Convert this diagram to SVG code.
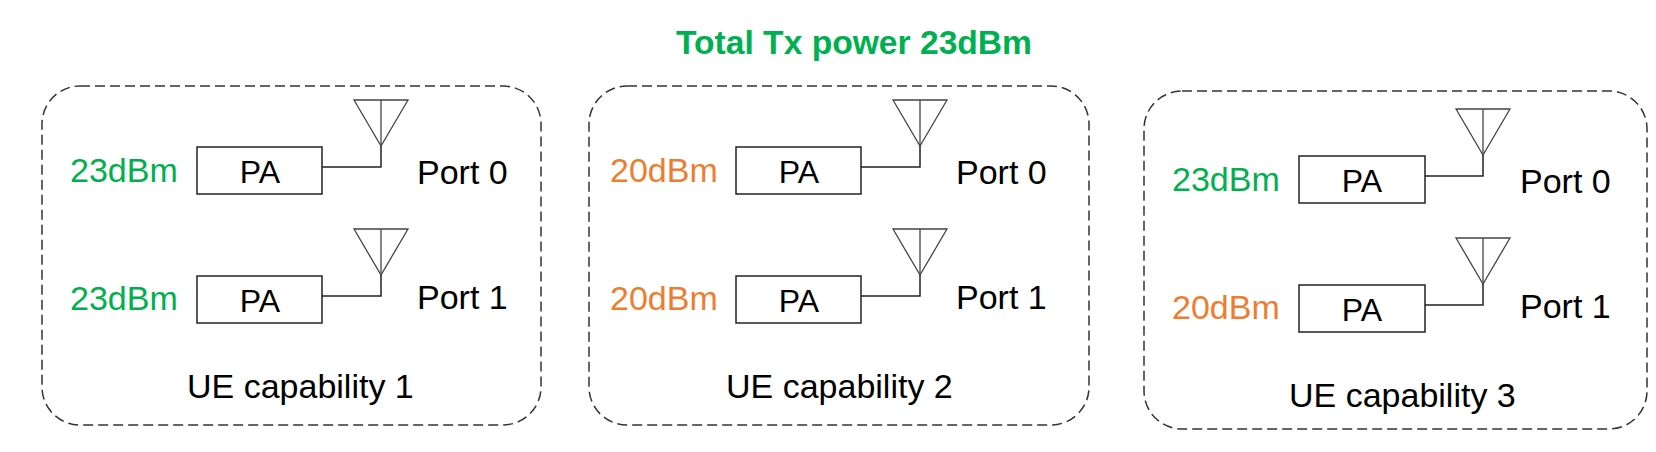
<svg xmlns="http://www.w3.org/2000/svg" width="1656" height="452" viewBox="0 0 1656 452">
<style>
text{font-family:"Liberation Sans",Arial,sans-serif;font-size:34px;fill:#000}
.title{font-weight:bold;font-size:33px;fill:#00B050}
.g{fill:#00B050}
.o{fill:#ED7D31}
.pa{font-size:32px;text-anchor:middle}
.panel{fill:none;stroke:#333;stroke-width:1.5;stroke-dasharray:10 5}
.box{fill:#fff;stroke:#222;stroke-width:1.5}
.ant{fill:none;stroke:#444;stroke-width:1.3;stroke-linejoin:miter}
.wire{fill:none;stroke:#222;stroke-width:1.5}
</style>
<defs>
<g id="antenna">
<polygon class="ant" points="-27,0 27,0 0,46"/>
<line class="ant" x1="0" y1="0" x2="0" y2="46"/>
</g>
</defs>
<rect width="1656" height="452" fill="#fff"/>
<g id="title"><text class="title" x="676" y="54" textLength="356" lengthAdjust="spacingAndGlyphs">Total Tx power 23dBm</text></g>

<g id="panel1">
<rect class="panel" x="42" y="86" width="499" height="339" rx="38" ry="38"/>
<text x="187" y="398">UE capability 1</text>
</g>
<g id="panel2">
<rect class="panel" x="589" y="86" width="500" height="339" rx="38" ry="38"/>
<text x="726" y="398">UE capability 2</text>
</g>
<g id="panel3">
<rect class="panel" x="1144" y="91" width="503" height="338" rx="38" ry="38"/>
<text x="1289" y="407">UE capability 3</text>
</g>

<g id="pa1-0"><text class="g" x="70" y="182">23dBm</text><rect class="box" x="197" y="147" width="125" height="47"/><text class="pa" x="260" y="183">PA</text></g>
<g id="pa1-1"><text class="g" x="70" y="310">23dBm</text><rect class="box" x="197" y="276" width="125" height="47"/><text class="pa" x="260" y="312">PA</text></g>
<g id="ant1-0"><use href="#antenna" x="381" y="100"/><text x="417" y="184">Port 0</text></g>
<g id="ant1-1"><use href="#antenna" x="381" y="229"/><text x="417" y="309">Port 1</text></g>

<g id="pa2-0"><text class="o" x="610" y="182">20dBm</text><rect class="box" x="736" y="147" width="125" height="47"/><text class="pa" x="799" y="183">PA</text></g>
<g id="pa2-1"><text class="o" x="610" y="310">20dBm</text><rect class="box" x="736" y="276" width="125" height="47"/><text class="pa" x="799" y="312">PA</text></g>
<g id="ant2-0"><use href="#antenna" x="920" y="100"/><text x="956" y="184">Port 0</text></g>
<g id="ant2-1"><use href="#antenna" x="920" y="229"/><text x="956" y="309">Port 1</text></g>

<g id="pa3-0"><text class="g" x="1172" y="191">23dBm</text><rect class="box" x="1299" y="156" width="126" height="47"/><text class="pa" x="1362" y="192">PA</text></g>
<g id="pa3-1"><text class="o" x="1172" y="319">20dBm</text><rect class="box" x="1299" y="285" width="126" height="47"/><text class="pa" x="1362" y="321">PA</text></g>
<g id="ant3-0"><use href="#antenna" x="1483" y="109"/><text x="1520" y="193">Port 0</text></g>
<g id="ant3-1"><use href="#antenna" x="1483" y="238"/><text x="1520" y="318">Port 1</text></g>

<g id="connectors">
<polyline class="wire" points="322,167 381,167 381,146"/>
<polyline class="wire" points="322,296 381,296 381,275"/>
<polyline class="wire" points="861,167 920,167 920,146"/>
<polyline class="wire" points="861,296 920,296 920,275"/>
<polyline class="wire" points="1425,176 1483,176 1483,155"/>
<polyline class="wire" points="1425,305 1483,305 1483,284"/>
</g>
</svg>
